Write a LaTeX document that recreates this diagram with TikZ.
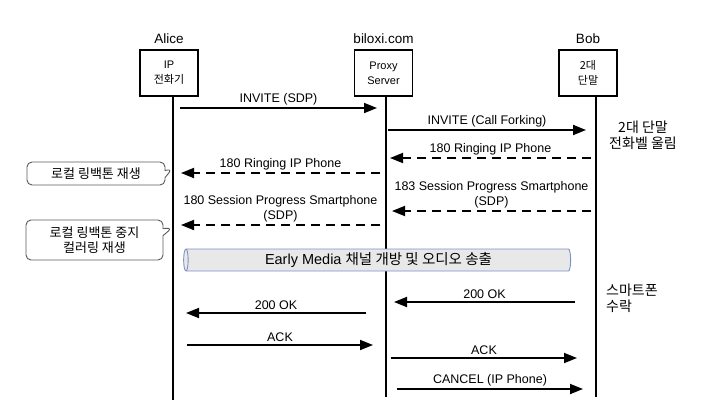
\documentclass[tikz,border=0pt]{standalone}
\usepackage{fontspec}
\setmainfont{Liberation Sans}
\newfontfamily\kr{Noto Sans CJK KR}
\usetikzlibrary{arrows.meta,shapes.geometric,shapes.callouts,positioning}
\definecolor{mediaedge}{RGB}{125,145,200}
\definecolor{mediafill}{RGB}{232,232,232}
\definecolor{noteedge}{RGB}{90,90,90}

\begin{document}
\begin{tikzpicture}[x=1pt,y=-1pt,
    ent/.style={draw,line width=1.2pt,minimum width=58pt,minimum height=46pt,align=center,font=\fontsize{11}{15}\selectfont},
    who/.style={font=\fontsize{13.5}{15}\selectfont},
    life/.style={line width=2pt},
    msg/.style={line width=1.8pt,-{Triangle[length=13pt,width=10pt]}},
    rsp/.style={msg,dash pattern=on 9pt off 6pt},
    lbl/.style={font=\fontsize{12.5}{15}\selectfont,align=center,inner sep=2pt},
    krlbl/.style={lbl,font=\kr\fontsize{14}{16}\selectfont},
    bubble/.style={rectangle callout,draw=noteedge,line width=0.9pt,rounded corners=5pt,align=center,font=\kr\fontsize{13}{15.5}\selectfont}]
  \useasboundingbox (0,0) rectangle (712,415);

  % entities
  \node[ent] (alice) at (169,73) {IP\\{\kr 전화기}};
  \node[ent] (proxy) at (383.5,73) {Proxy\\Server};
  \node[ent] (bob) at (588,73) {{\kr 2대}\\{\kr 단말}};
  \node[who,above=2pt of alice] (alicename) {Alice};
  \node[who,above=2pt of proxy] (proxyname) {biloxi.com};
  \node[who,above=2pt of bob] (bobname) {Bob};

  % lifelines
  \coordinate (aliceend) at (173,400);
  \coordinate (proxyend) at (386,397);
  \coordinate (bobend) at (596,397);
  \draw[life] (aliceend |- alice.south) -- (aliceend);
  \draw[life] (proxyend |- proxy.south) -- (proxyend);
  \draw[life] (bobend |- bob.south) -- (bobend);

  % messages
  \coordinate (m1s) at (180,108); \coordinate (m1e) at (377,108);
  \draw[msg] (m1s) -- node[lbl,above] {INVITE (SDP)} (m1e);
  \coordinate (m2s) at (388,130); \coordinate (m2e) at (586,130);
  \draw[msg] (m2s) -- node[lbl,above] {INVITE (Call Forking)} (m2e);
  \coordinate (m3s) at (591,158); \coordinate (m3e) at (390,158);
  \draw[rsp] (m3s) -- node[lbl,above] {180 Ringing IP Phone} (m3e);
  \coordinate (m4s) at (380,173); \coordinate (m4e) at (181,173);
  \draw[rsp] (m4s) -- node[lbl,above] {180 Ringing IP Phone} (m4e);
  \coordinate (m5s) at (591,211); \coordinate (m5e) at (392,211);
  \draw[rsp] (m5s) -- node[lbl,above] {183 Session Progress Smartphone\\(SDP)} (m5e);
  \coordinate (m6s) at (380,225); \coordinate (m6e) at (181,225);
  \draw[rsp] (m6s) -- node[lbl,above] {180 Session Progress Smartphone\\(SDP)} (m6e);
  \coordinate (m7s) at (575,302); \coordinate (m7e) at (394,302);
  \draw[msg] (m7s) -- node[lbl,above] {200 OK} (m7e);
  \coordinate (m8s) at (366,313); \coordinate (m8e) at (186,313);
  \draw[msg] (m8s) -- node[lbl,above] {200 OK} (m8e);
  \coordinate (m9s) at (187,345); \coordinate (m9e) at (373,345);
  \draw[msg] (m9s) -- node[lbl,above] {ACK} (m9e);
  \coordinate (m10s) at (391,358); \coordinate (m10e) at (577,358);
  \draw[msg] (m10s) -- node[lbl,above] {ACK} (m10e);
  \coordinate (m11s) at (397,389); \coordinate (m11e) at (583,389);
  \draw[msg] (m11s) -- node[lbl,above] {CANCEL (IP Phone)} (m11e);

  % early media
  \node[cylinder,shape border rotate=180,draw=mediaedge,fill=mediafill,line width=0.9pt,aspect=0.3,
        minimum width=22pt,minimum height=387pt,inner sep=0pt,font=\fontsize{14.5}{16}\selectfont]
        (media) at (378.5,260) {Early Media {\kr 채널 개방 및 오디오 송출}};

  % notes
  \node[krlbl] (ring) at (643,135) {2대 단말\\전화벨 울림};
  \node[krlbl,align=left,anchor=west] (accept) at (604,298) {스마트폰\\수락};
  \node[bubble,minimum width=138pt,minimum height=23pt,callout absolute pointer={(172,169)}]
        (ringback) at (96,173.5) {로컬 링백톤 재생};
  \node[bubble,minimum width=137pt,minimum height=40pt,callout absolute pointer={(172,228)}]
        (colorring) at (94.5,240) {로컬 링백톤 중지\\컬러링 재생};
\end{tikzpicture}
\end{document}
